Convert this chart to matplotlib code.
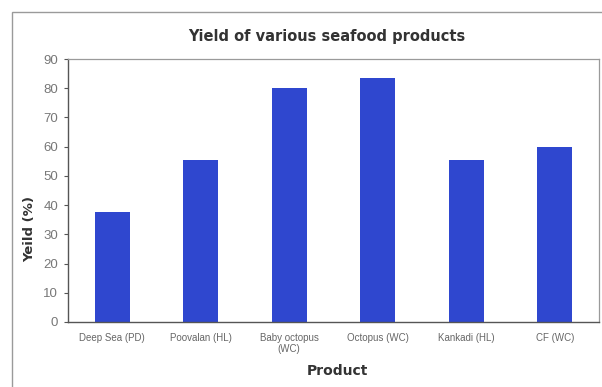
import matplotlib
matplotlib.use("Agg")
import matplotlib.pyplot as plt
from matplotlib.patches import Rectangle

products = ["Deep Sea (PD)", "Poovalan (HL)", "Baby octopus\n(WC)",
            "Octopus (WC)", "Kankadi (HL)", "CF (WC)"]
yield_pct = [37.5, 55.5, 80.0, 83.5, 55.5, 60.0]
y_ticks = [0, 10, 20, 30, 40, 50, 60, 70, 80, 90]

plt.rcParams["font.family"] = ["Liberation Sans", "DejaVu Sans"]
bold_font = ["DejaVu Sans"]

W, H = 602, 387
fig = plt.figure(figsize=(W / 100, H / 100), dpi=100)

# outer chart frame (runs off the right and bottom edges)
fig.patches.append(Rectangle((12 / W, -0.05), 1.1, 1 - 12 / H + 0.05,
                             transform=fig.transFigure, fill=False,
                             edgecolor="#9a9a9a", linewidth=1.0))

ax = fig.add_axes([68 / W, 1 - 322 / H, (599 - 68) / W, (322 - 59) / H])
x = range(len(products))
ax.bar(x, yield_pct, width=0.4, color="#2f47cf")
ax.set_xlim(-0.5, len(products) - 0.5)
ax.set_ylim(0, 90)
ax.set_yticks(y_ticks)
ax.set_xticks(list(x))
ax.set_xticklabels(products, fontsize=7, color="#666666", linespacing=1.15)
ax.tick_params(axis="x", length=0, pad=8)
ax.tick_params(axis="y", length=3, width=0.8, color="#555555",
               labelsize=9.5, labelcolor="#777777", pad=4)

for side in ["top", "right"]:
    ax.spines[side].set_color("#9a9a9a")
    ax.spines[side].set_linewidth(0.9)
for side in ["left", "bottom"]:
    ax.spines[side].set_color("#555555")
    ax.spines[side].set_linewidth(1.0)

fig.text(30 / W, 1 - 229 / H, "Yeild (%)", rotation=90, ha="center",
         va="center", fontsize=9.5, fontweight="bold", color="#333333",
         family=bold_font)
fig.text(337 / W, 1 - 371 / H, "Product", ha="center", va="center",
         fontsize=10, fontweight="bold", color="#333333", family=bold_font)
fig.text(327 / W, 1 - 36 / H, "Yield of various seafood products",
         ha="center", va="center", fontsize=10.5, fontweight="bold",
         color="#333333", family=bold_font)

fig.savefig("out.png", dpi=100)
